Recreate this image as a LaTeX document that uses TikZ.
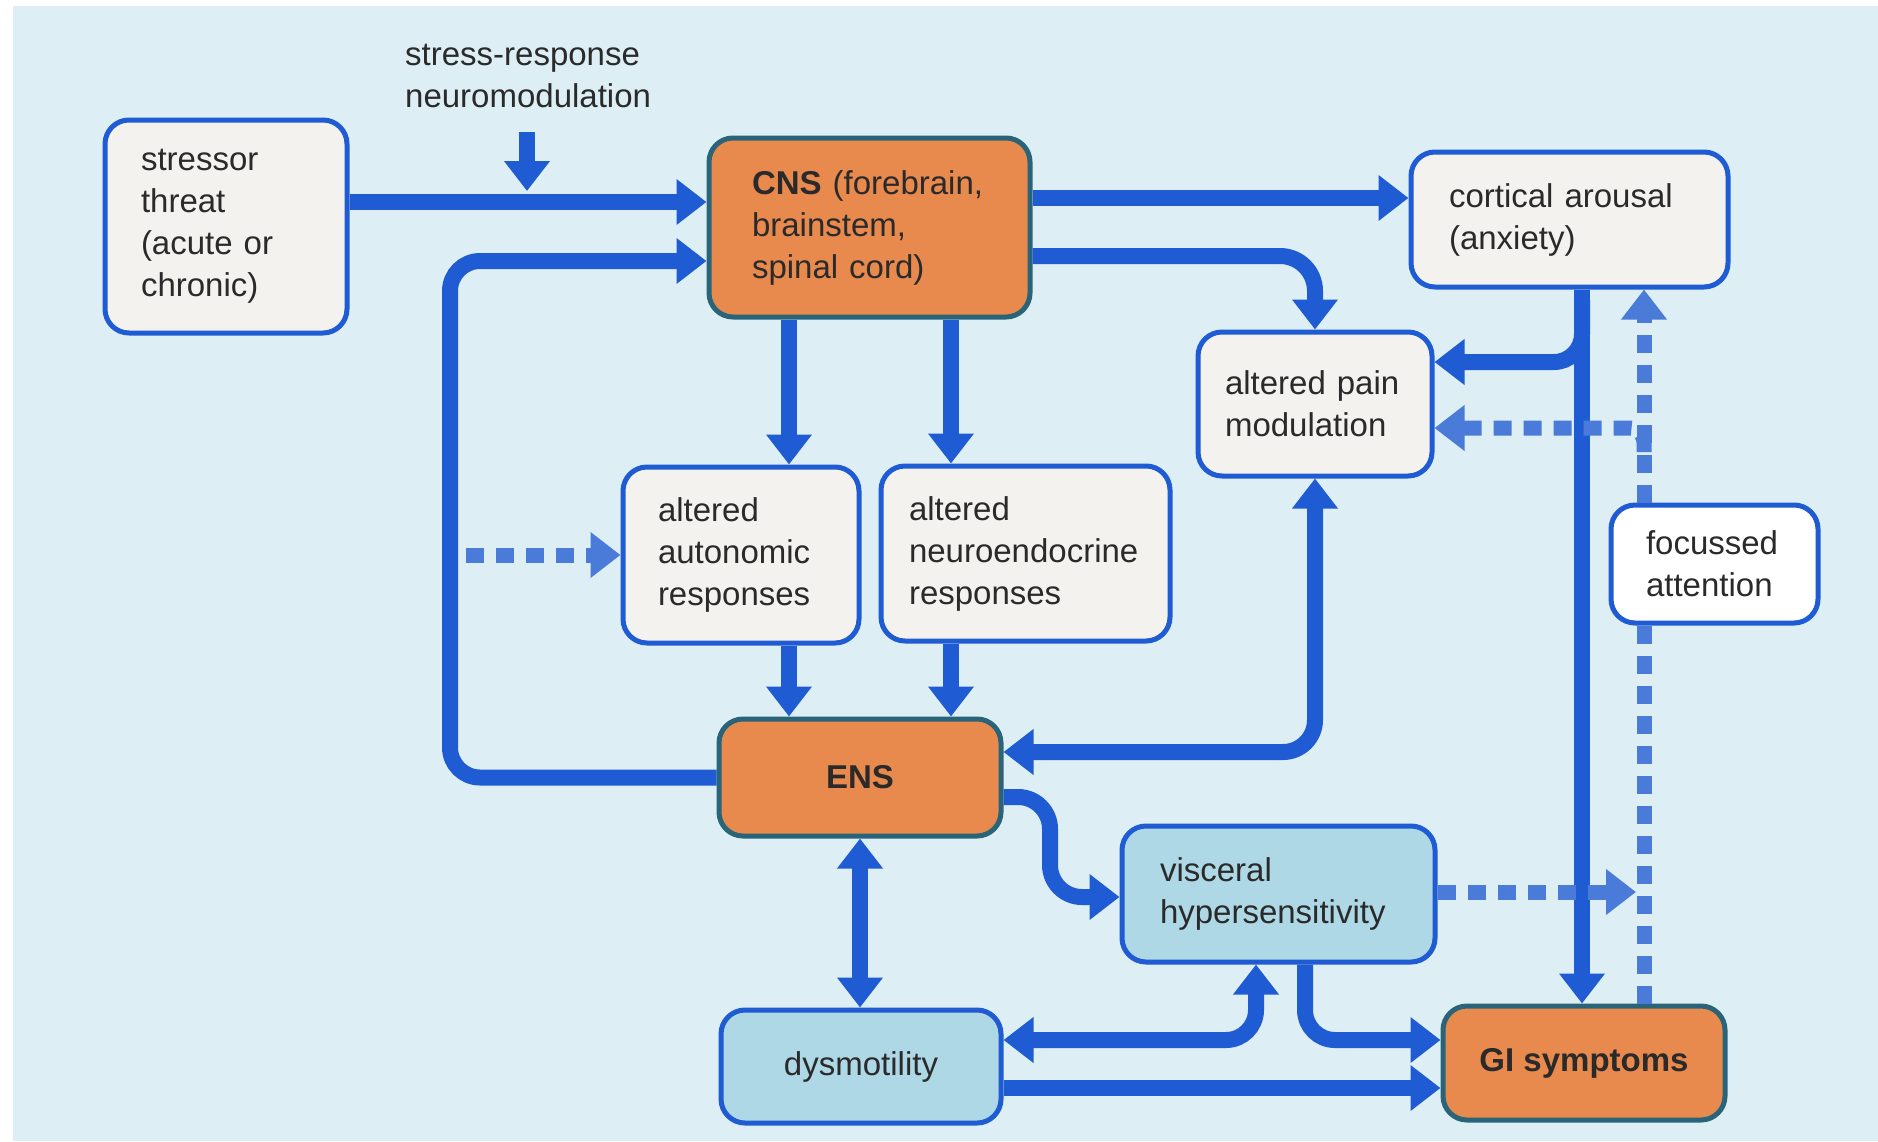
\documentclass[tikz,border=0pt]{standalone}
\usepackage{fontspec}
\setmainfont{Liberation Sans}
\usetikzlibrary{arrows.meta}
\definecolor{bg}{HTML}{DDEFF5}
\definecolor{ln}{HTML}{1F5BD2}
\definecolor{dl}{HTML}{4A7BD8}
\definecolor{beige}{HTML}{F4F2EE}
\definecolor{org}{HTML}{E88A4E}
\definecolor{orgb}{HTML}{2A6478}
\definecolor{lb}{HTML}{AED8E6}
\definecolor{tx}{HTML}{2A2A2A}
\begin{document}
\begin{tikzpicture}[x=1pt,y=-1pt,
  box/.style={draw=ln, line width=5pt, rounded corners=24pt, fill=beige, text=tx, align=left, inner ysep=0pt, font=\fontsize{33}{42}\selectfont},
  obox/.style={box, fill=org, draw=orgb},
  bbox/.style={box, fill=lb},
  tip/.style={},
  arr/.style={draw=ln, line width=16pt, -{Triangle[length=30pt,width=44pt]}},
  arrtwo/.style={draw=ln, line width=16pt, {Triangle[length=30pt,width=44pt]}-{Triangle[length=30pt,width=44pt]}},
  darr/.style={draw=dl, line width=15pt, dash pattern=on 18pt off 12pt, -{Triangle[length=30pt,width=44pt]}},
  dline/.style={draw=dl, line width=15pt, dash pattern=on 18pt off 12pt},
]
\useasboundingbox (0,0) rectangle (1878,1141);
\fill[white] (0,0) rectangle (1878,1141);
\fill[bg] (13,6) rectangle (1878,1141);

% nodes
\node[text=tx, font=\fontsize{33}{42}\selectfont, align=left, anchor=north west, inner sep=0pt] (stress) at (405,44) {stress-response\\neuromodulation};
\node[box, minimum width=242pt, minimum height=213pt, inner xsep=36pt, text width=170pt] (stressor) at (226,226.5) {stressor\\threat\\(acute or\\chronic)};
\node[obox, minimum width=321pt, minimum height=179pt, inner xsep=43pt, text width=235pt] (CNS) at (869.5,227.5) {\textbf{CNS} (forebrain,\\brainstem,\\spinal cord)};
\node[box, minimum width=317pt, minimum height=135pt, inner xsep=38pt, text width=241pt] (cort) at (1569.5,219.5) {cortical arousal\\(anxiety)};
\node[box, minimum width=234pt, minimum height=144pt, inner xsep=27pt, text width=180pt] (pain) at (1315,404) {altered pain\\modulation};
\node[box, minimum width=236pt, minimum height=176pt, inner xsep=35pt, text width=166pt] (aut) at (741,555) {altered\\autonomic\\responses};
\node[box, minimum width=289pt, minimum height=175pt, inner xsep=28pt, text width=233pt] (neuro) at (1025.5,553.5) {altered\\neuroendocrine\\responses};
\node[box, fill=white, minimum width=207pt, minimum height=118pt, inner xsep=35pt, text width=137pt] (foc) at (1714.5,564) {focussed\\attention};
\node[obox, align=center, minimum width=282pt, minimum height=117pt] (ENS) at (860,777.5) {\textbf{ENS}};
\node[bbox, minimum width=313pt, minimum height=136pt, inner xsep=38pt, text width=237pt] (visc) at (1278.5,894) {visceral\\hypersensitivity};
\node[bbox, align=center, minimum width=280pt, minimum height=113pt] (dys) at (861,1066.5) {dysmotility};
\node[obox, align=center, minimum width=282pt, minimum height=114pt] (GI) at (1584,1063) {\textbf{GI symptoms}};

% helper coordinates
\coordinate (s1) at (527,132);
\coordinate (s2) at (527,191);
\coordinate (r198) at (0,198);
\coordinate (r202) at (0,202);
\coordinate (r256) at (0,256);
\coordinate (lp) at (450,261);
\coordinate (r362) at (0,362);
\coordinate (r428) at (0,428);
\coordinate (dd) at (466,555);
\coordinate (r752) at (0,752);
\coordinate (r797) at (0,797);
\coordinate (vc) at (1050,897);
\coordinate (e5) at (1636,892);
\coordinate (r1040) at (0,1040);
\coordinate (r1088) at (0,1088);
\coordinate (x1) at (789,0);
\coordinate (x2) at (951,0);
\coordinate (x3) at (1582,0);
\coordinate (x4) at (1644,0);
\coordinate (x5) at (1256,0);
\coordinate (x6) at (1305,0);
\coordinate (b1) at (1582,300);
\coordinate (b2) at (1644,452);

% connectors
\draw[arr] (s1) -- (s2);
\draw[arr] (stressor.east |- r202) -- (CNS.west |- r202);
\draw[arr, rounded corners=30pt] (ENS.west) -| (lp) -- (CNS.west |- lp);
\draw[darr] (dd) -- (aut.west |- dd);
\draw[arr] (CNS.south -| x1) -- (aut.north -| x1);
\draw[arr] (CNS.south -| x2) -- (neuro.north -| x2);
\draw[arr] (aut.south -| x1) -- (ENS.north -| x1);
\draw[arr] (neuro.south -| x2) -- (ENS.north -| x2);
\draw[arr] (CNS.east |- r198) -- (cort.west |- r198);
\draw[arr, rounded corners=35pt] (CNS.east |- r256) -| (pain.north);
\draw[arr] (cort.south -| x3) -- (GI.north -| x3);
\draw[arr, rounded corners=28pt] (b1) |- (pain.east |- r362);
\draw[darr] (foc.north -| x4) -- (cort.south -| x4);
\draw[dline] (foc.south -| x4) -- (GI.north -| x4);
\draw[darr, rounded corners=15pt] (b2) |- (pain.east |- r428);
\draw[darr] (visc.east |- e5) -- (e5);
\draw[arr, rounded corners=32pt] (ENS.east |- r797) -| (vc) -- (visc.west |- vc);
\draw[arrtwo, rounded corners=32pt] (ENS.east |- r752) -| (pain.south);
\draw[arrtwo] (ENS.south) -- (dys.north -| ENS.south);
\draw[arrtwo, rounded corners=30pt] (dys.east |- r1040) -| (visc.south -| x5);
\draw[arr, rounded corners=30pt] (visc.south -| x6) |- (GI.west |- r1040);
\draw[arr] (dys.east |- r1088) -- (GI.west |- r1088);
\end{tikzpicture}
\end{document}
